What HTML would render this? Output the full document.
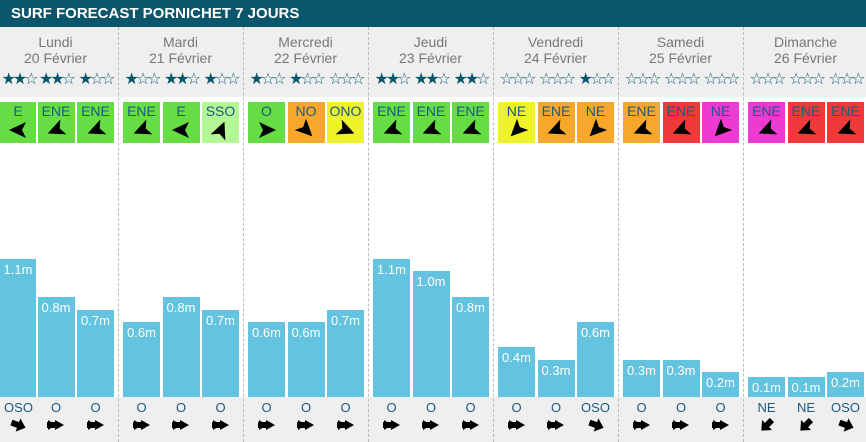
<!DOCTYPE html>
<html><head><meta charset="utf-8"><style>
body{margin:0;width:866px;height:442px;overflow:hidden;background:#fff;font-family:"Liberation Sans",sans-serif;position:relative}
.h{position:absolute;left:0;top:0;width:866px;height:27px;background:#0c566b;color:#fff;font-weight:bold;font-size:15px;line-height:27px;padding-left:11px;box-sizing:border-box}
.g1{position:absolute;left:0;top:27px;width:866px;height:70px;background:#efefef}
.g2{position:absolute;left:0;top:397px;width:866px;height:45px;background:#efefef}
.div{position:absolute;top:27px;height:415px;border-left:1px dashed #bbb}
.day{position:absolute;top:34px;width:125px;text-align:center;color:#777;font-size:14px;line-height:16px}
.st{position:absolute;top:69px;width:40px;text-align:center;font-family:"DejaVu Sans",sans-serif;font-size:16px;color:#0c566b;letter-spacing:-3px;white-space:nowrap}
.w{position:absolute;top:102px;width:37px;height:41px;text-align:center;color:#1a5a80;font-size:14px;line-height:18px}
.b{position:absolute;width:37px;background:#64c3df;color:#fff;font-size:13px;text-align:center;line-height:20px;padding-top:1px;box-sizing:border-box}
.sd{position:absolute;top:400px;width:40px;text-align:center;color:#1a5a80;font-size:13px}
svg{position:absolute}
</style></head><body>
<div class="h">SURF FORECAST PORNICHET 7 JOURS</div>
<div class="g1"></div><div class="g2"></div>
<div id="c"></div>
<script>
var days=[["Lundi","20 Février"],["Mardi","21 Février"],["Mercredi","22 Février"],["Jeudi","23 Février"],["Vendredi","24 Février"],["Samedi","25 Février"],["Dimanche","26 Février"]];
var stars=[2,2,1,1,2,1,1,1,0,2,2,2,0,0,1,0,0,0,0,0,0];
var G="#66dd44",LG="#b4f797",O="#f7a82c",Y="#eef22a",R="#f03a3a",M="#ec3ad2";
var E=180,ENE=157.5,NE=135,SSO=-67.5,OO=0,NO=45,ONO=22.5;
var wind=[["E",G,E],["ENE",G,ENE],["ENE",G,ENE],["ENE",G,ENE],["E",G,E],["SSO",LG,SSO],["O",G,OO],["NO",O,NO],["ONO",Y,ONO],["ENE",G,ENE],["ENE",G,ENE],["ENE",G,ENE],["NE",Y,NE],["ENE",O,ENE],["NE",O,NE],["ENE",O,ENE],["ENE",R,ENE],["NE",M,NE],["ENE",M,ENE],["ENE",R,ENE],["ENE",R,ENE]];
var h=[1.1,0.8,0.7,0.6,0.8,0.7,0.6,0.6,0.7,1.1,1.0,0.8,0.4,0.3,0.6,0.3,0.3,0.2,0.1,0.1,0.2];
var tops={1.1:259,1.0:271,0.8:297,0.7:310,0.6:322,0.4:347,0.3:360,0.2:372,0.1:377};
var sw=["OSO","O","O","O","O","O","O","O","O","O","O","O","O","O","OSO","O","O","O","NE","NE","OSO"];
var s="";
for(var d=0;d<7;d++){var x0=-7+125*d;
 if(d>0)s+='<div class="div" style="left:'+(x0)+'px"></div>';
 s+='<div class="day" style="left:'+x0+'px">'+days[d][0]+'<br>'+days[d][1]+'</div>';
 for(var k=0;k<3;k++){var i=d*3+k;var bx=x0+5+k*39.5;if(d==0&&k==0)bx=0;var bw=(d==0&&k==0)?36:37;
  var st="";for(var j=0;j<3;j++)st+=j<stars[i]?"★":"☆";
  s+='<div class="st" style="left:'+(bx-1.5)+'px">'+st+'</div>';
  var w=wind[i];
  s+='<div class="w" style="left:'+bx+'px;width:'+bw+'px;background:'+w[1]+'">'+w[0]+'<svg width="22" height="22" style="left:'+(bw/2-11)+'px;top:17px"><g transform="translate(11,11) rotate('+w[2]+')"><path d="M9,0 L-8,-8 L-4,0 L-8,8 Z" fill="#000"/></g></svg></div>';
  var t=tops[h[i]];
  s+='<div class="b" style="left:'+bx+'px;width:'+bw+'px;top:'+t+'px;height:'+(397-t)+'px">'+h[i].toFixed(1)+'m</div>';
  s+='<div class="sd" style="left:'+(bx-1.5)+'px">'+sw[i]+'</div>';
  var r=sw[i]=="O"?0:(sw[i]=="OSO"?20:135);
  var ax=bx+bw/2-9;
  if(sw[i]=="O")s+='<svg width="18" height="14" style="left:'+ax+'px;top:418px"><path d="M1,2 L9,7 L1,12 Z M8,2 L17,7 L8,12 Z" fill="#000"/><rect x="0" y="4" width="9" height="6" fill="#000"/></svg>';
  else s+='<svg width="18" height="18" style="left:'+ax+'px;top:416px"><g transform="translate(9,9) rotate('+r+')"><path d="M8,0 L0,-7 L0,-3 L-7,-3 L-7,3 L0,3 L0,7 Z" fill="#000"/></g></svg>';
 }}
document.getElementById("c").innerHTML=s;
</script>
</body></html>
